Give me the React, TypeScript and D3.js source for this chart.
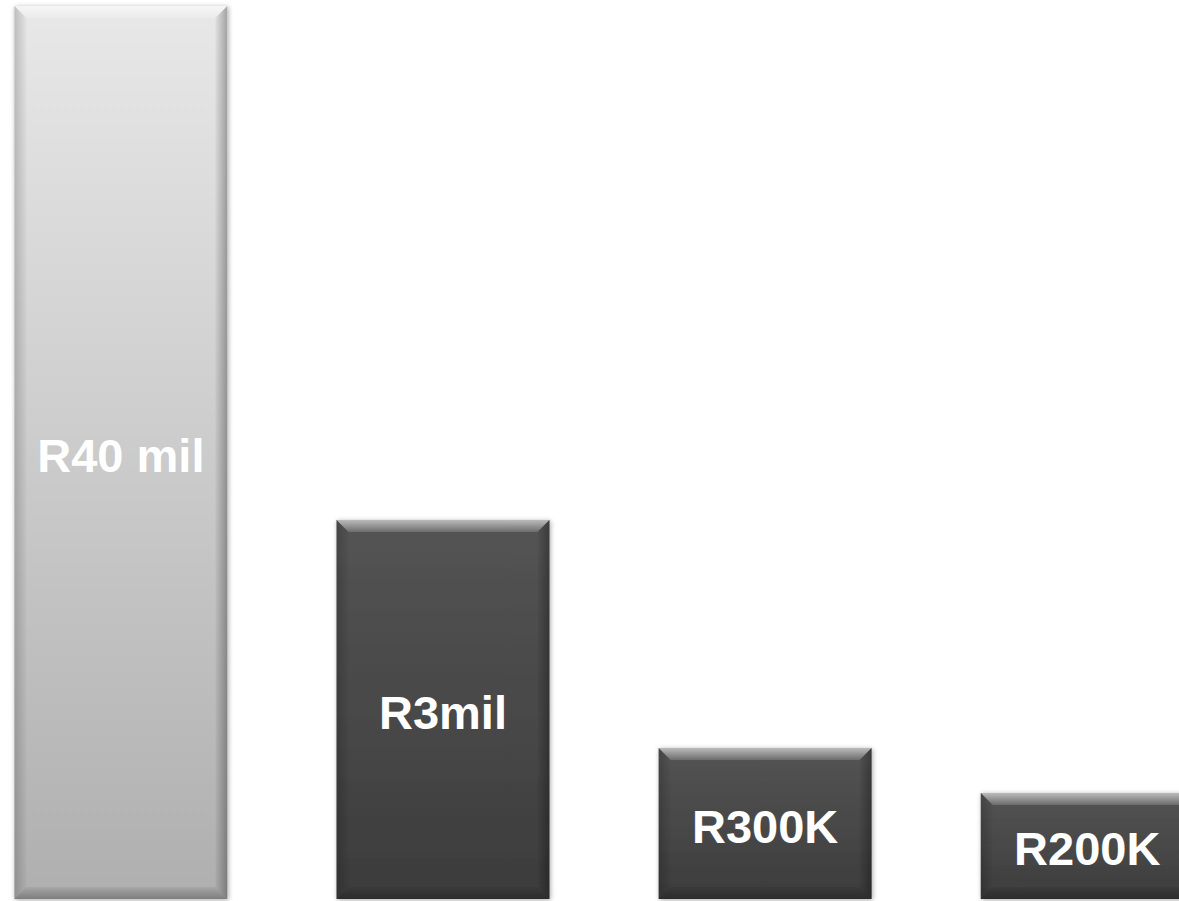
import React from "react";
import * as d3 from "d3";

const categories = ["A", "B", "C", "D"];
const values = [893, 379, 151, 106];
const labels = ["R40 mil", "R3mil", "R300K", "R200K"];
const styles = ["light", "dark", "dark", "dark"];

const W = 1179;
const H = 901;

export default function App() {
  const x = d3.scaleBand<string>().domain(categories).range([14.4, 1193.7]).paddingInner(0.339).paddingOuter(0);
  const y = d3.scaleLinear().domain([0, 893]).range([899, 6]);
  const bw = x.bandwidth();
  const b = 12;
  return (
    <svg width={W} height={H} style={{ position: "absolute", left: 0, top: 0, background: "#fff" }}>
      <defs>
        <linearGradient id="gLight" x1="0" y1="0" x2="0" y2="1">
          <stop offset="0" stopColor="#e8e8e8" />
          <stop offset="1" stopColor="#afafaf" />
        </linearGradient>
        <linearGradient id="gDark" x1="0" y1="0" x2="0" y2="1">
          <stop offset="0" stopColor="#545454" />
          <stop offset="1" stopColor="#3c3c3c" />
        </linearGradient>
        <linearGradient id="topB" x1="0" y1="0" x2="0" y2="1">
          <stop offset="0" stopColor="#fff" stopOpacity={0.6} />
          <stop offset="1" stopColor="#fff" stopOpacity={0.15} />
        </linearGradient>
        <linearGradient id="leftB" x1="0" y1="0" x2="1" y2="0">
          <stop offset="0" stopColor="#000" stopOpacity={0.18} />
          <stop offset="1" stopColor="#000" stopOpacity={0.02} />
        </linearGradient>
        <linearGradient id="rightB" x1="1" y1="0" x2="0" y2="0">
          <stop offset="0" stopColor="#000" stopOpacity={0.3} />
          <stop offset="1" stopColor="#000" stopOpacity={0.03} />
        </linearGradient>
        <linearGradient id="botB" x1="0" y1="1" x2="0" y2="0">
          <stop offset="0" stopColor="#000" stopOpacity={0.28} />
          <stop offset="1" stopColor="#000" stopOpacity={0.05} />
        </linearGradient>
        <filter id="sh" x="-10%" y="-10%" width="120%" height="120%">
          <feDropShadow dx="1" dy="1" stdDeviation="2.5" floodColor="#000" floodOpacity={0.35} />
        </filter>
      </defs>
      {categories.map((c, i) => {
        const x0 = x(c)!;
        const y0 = y(values[i]);
        const y1 = y(0);
        const x1 = x0 + bw;
        const light = styles[i] === "light";
        return (
          <g key={c}>
            <rect x={x0} y={y0} width={bw} height={y1 - y0} fill={light ? "url(#gLight)" : "url(#gDark)"} filter="url(#sh)" />
            <polygon points={`${x0},${y0} ${x1},${y0} ${x1 - b},${y0 + b} ${x0 + b},${y0 + b}`} fill="url(#topB)" />
            <polygon points={`${x0},${y0} ${x0 + b},${y0 + b} ${x0 + b},${y1 - b} ${x0},${y1}`} fill="url(#leftB)" />
            <polygon points={`${x1},${y0} ${x1 - b},${y0 + b} ${x1 - b},${y1 - b} ${x1},${y1}`} fill="url(#rightB)" />
            <polygon points={`${x0},${y1} ${x0 + b},${y1 - b} ${x1 - b},${y1 - b} ${x1},${y1}`} fill="url(#botB)" />
            <text
              x={x0 + bw / 2}
              y={(y0 + y1) / 2 + 7}
              textAnchor="middle"
              dominantBaseline="middle"
              fill="#fff"
              fontFamily="Liberation Sans, Arial, sans-serif"
              fontWeight="bold"
              fontSize={47}
            >
              {labels[i]}
            </text>
          </g>
        );
      })}
    </svg>
  );
}
